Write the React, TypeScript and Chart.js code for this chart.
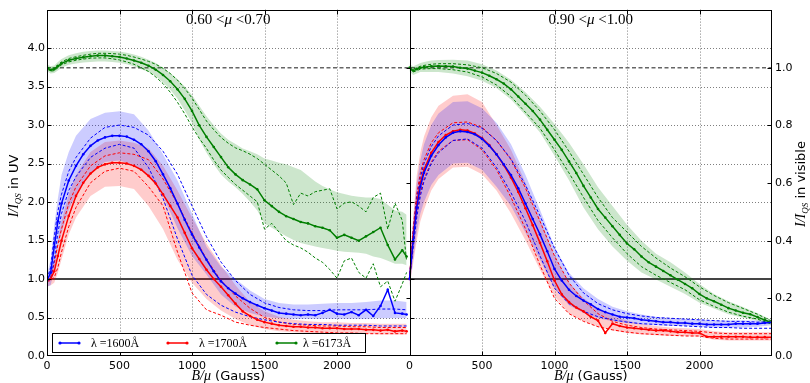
import React, { useEffect, useRef } from "react";
import { Chart, registerables } from "chart.js";

Chart.register(...registerables);

// ---------- x grids (B/mu in Gauss) ----------
const FINE_B = [0, 25, 50, 75, 100, 150, 200, 250, 300, 350, 400, 450, 500, 550, 600, 650, 700, 750, 800, 850, 900, 950, 1000, 1050, 1100, 1150, 1200, 1250, 1300, 1350, 1400, 1450, 1500, 1550, 1600, 1650, 1700, 1750, 1800, 1850, 1900, 1950, 2000, 2050, 2100, 2150, 2200, 2250, 2300, 2350, 2400, 2450];
const COARSE_B = [0, 25, 50, 75, 100, 150, 200, 300, 400, 500, 600, 700, 800, 900, 1000, 1100, 1200, 1300, 1400, 1500, 1600, 1700, 1800, 1900, 2000, 2100, 2200, 2300, 2400];
const LEFT_END = 2480;
const RIGHT_END = 2500;
const PANEL_SPAN = 2500;

// ---------- tick labels ----------
const X_TICKS = [0, 500, 1000, 1500, 2000];
const UV_TICKS = [0, 0.5, 1.0, 1.5, 2.0, 2.5, 3.0, 3.5, 4.0];
const VIS_TICKS = [0, 0.2, 0.4, 0.6, 0.8, 1.0];
const UV_MAX = 4.5;
const UV_PER_VIS = 3.745;
const LEGEND_LABELS = ["\u03bb =1600\u00c5", "\u03bb =1700\u00c5", "\u03bb =6173\u00c5"];
const PANEL_TITLES = [["0.60", "0.70"], ["0.90", "1.00"]];

// ---------- LEFT PANEL  0.60 < mu < 0.70 ----------
// UV (I/I_QS), fine grid
const L_BLUE_MEAN = [0.98, 1.08, 1.42, 1.75, 1.98, 2.28, 2.47, 2.62, 2.73, 2.80, 2.84, 2.86, 2.86, 2.85, 2.81, 2.75, 2.66, 2.53, 2.36, 2.18, 1.98, 1.77, 1.58, 1.41, 1.25, 1.10, 0.97, 0.88, 0.81, 0.75, 0.70, 0.66, 0.62, 0.59, 0.56, 0.55, 0.54, 0.53, 0.54, 0.53, 0.56, 0.60, 0.55, 0.54, 0.57, 0.53, 0.60, 0.52, 0.65, 0.86, 0.56, 0.55, 0.54];
const L_RED_MEAN = [0.98, 1.00, 1.10, 1.30, 1.50, 1.82, 2.08, 2.25, 2.37, 2.45, 2.49, 2.51, 2.51, 2.50, 2.47, 2.42, 2.34, 2.24, 2.10, 1.95, 1.80, 1.60, 1.40, 1.26, 1.12, 1.00, 0.90, 0.79, 0.68, 0.58, 0.52, 0.47, 0.44, 0.42, 0.40, 0.39, 0.38, 0.38, 0.37, 0.37, 0.36, 0.36, 0.36, 0.35, 0.35, 0.35, 0.34, 0.34, 0.33, 0.34, 0.32, 0.33, 0.32];
// coarse grid
const L_BLUE_HI = [1.05, 1.25, 1.7, 2.05, 2.35, 2.65, 2.86, 3.08, 3.16, 3.18, 3.14, 2.93, 2.62, 2.28, 1.85, 1.42, 1.16, 1.0, 0.85, 0.74, 0.69, 0.67, 0.67, 0.68, 0.69, 0.69, 0.70, 0.72, 0.72, 0.70];
const L_BLUE_LO = [0.9, 0.92, 1.12, 1.42, 1.6, 1.9, 2.1, 2.38, 2.52, 2.54, 2.48, 2.35, 2.08, 1.66, 1.3, 1.06, 0.8, 0.64, 0.56, 0.51, 0.49, 0.48, 0.48, 0.48, 0.48, 0.48, 0.48, 0.49, 0.49, 0.49];
const L_RED_HI = [1.0, 1.05, 1.25, 1.5, 1.75, 2.1, 2.35, 2.65, 2.78, 2.8, 2.77, 2.7, 2.47, 2.15, 1.8, 1.46, 1.18, 0.92, 0.7, 0.58, 0.51, 0.47, 0.45, 0.44, 0.44, 0.43, 0.43, 0.42, 0.42, 0.42];
const L_RED_LO = [0.9, 0.92, 0.95, 1.08, 1.25, 1.58, 1.8, 2.08, 2.2, 2.21, 2.17, 1.95, 1.65, 1.25, 0.95, 0.74, 0.59, 0.48, 0.4, 0.35, 0.32, 0.31, 0.3, 0.3, 0.29, 0.29, 0.29, 0.28, 0.28, 0.28];
const L_BLUE_DHI = [1.0, 1.15, 1.55, 1.88, 2.1, 2.4, 2.58, 2.83, 2.97, 3.0, 2.97, 2.87, 2.66, 2.36, 1.95, 1.55, 1.22, 0.98, 0.8, 0.69, 0.63, 0.6, 0.59, 0.59, 0.6, 0.6, 0.6, 0.61, 0.61, 0.6];
const L_BLUE_DLO = [0.97, 1.0, 1.25, 1.6, 1.85, 2.15, 2.33, 2.58, 2.7, 2.75, 2.7, 2.45, 2.05, 1.52, 1.05, 0.8, 0.66, 0.57, 0.51, 0.47, 0.44, 0.42, 0.41, 0.41, 0.4, 0.4, 0.4, 0.39, 0.39, 0.39];
const L_RED_DHI = [0.98, 1.02, 1.2, 1.45, 1.65, 1.98, 2.2, 2.47, 2.6, 2.64, 2.62, 2.55, 2.3, 1.98, 1.6, 1.26, 0.98, 0.78, 0.62, 0.5, 0.44, 0.41, 0.4, 0.39, 0.39, 0.38, 0.38, 0.37, 0.37, 0.37];
const L_RED_DLO = [0.97, 0.98, 1.02, 1.15, 1.35, 1.68, 1.93, 2.25, 2.4, 2.44, 2.4, 2.2, 1.95, 1.35, 0.82, 0.6, 0.53, 0.44, 0.4, 0.37, 0.35, 0.33, 0.32, 0.31, 0.3, 0.3, 0.29, 0.29, 0.29, 0.29];
// visible (I/I_QS), fine grid
const L_GREEN_MEAN = [1.0, 0.992, 0.995, 1.005, 1.015, 1.026, 1.032, 1.036, 1.04, 1.042, 1.042, 1.04, 1.037, 1.032, 1.025, 1.017, 1.007, 0.993, 0.975, 0.953, 0.925, 0.892, 0.85, 0.80, 0.76, 0.725, 0.69, 0.655, 0.63, 0.61, 0.595, 0.578, 0.54, 0.52, 0.5, 0.485, 0.475, 0.465, 0.46, 0.45, 0.445, 0.436, 0.41, 0.42, 0.41, 0.40, 0.415, 0.43, 0.445, 0.385, 0.335, 0.367, 0.345];
const L_GREEN_HI = [1.012, 1.005, 1.008, 1.02, 1.03, 1.043, 1.05, 1.055, 1.058, 1.06, 1.06, 1.058, 1.056, 1.052, 1.046, 1.038, 1.028, 1.016, 1.0, 0.982, 0.96, 0.935, 0.905, 0.868, 0.832, 0.8, 0.772, 0.75, 0.735, 0.72, 0.71, 0.70, 0.685, 0.678, 0.67, 0.665, 0.655, 0.645, 0.625, 0.605, 0.59, 0.578, 0.568, 0.562, 0.556, 0.552, 0.55, 0.55, 0.545, 0.525, 0.505, 0.5, 0.49];
const L_GREEN_LO = [0.988, 0.98, 0.982, 0.99, 1.0, 1.01, 1.015, 1.018, 1.02, 1.022, 1.022, 1.02, 1.017, 1.012, 1.004, 0.995, 0.985, 0.97, 0.95, 0.924, 0.892, 0.852, 0.808, 0.75, 0.705, 0.665, 0.63, 0.605, 0.585, 0.562, 0.535, 0.505, 0.46, 0.445, 0.43, 0.415, 0.402, 0.392, 0.386, 0.38, 0.375, 0.37, 0.365, 0.362, 0.36, 0.358, 0.355, 0.345, 0.34, 0.33, 0.32, 0.32, 0.315];
const L_GREEN_DHI = [1.004, 0.997, 1.0, 1.01, 1.02, 1.032, 1.038, 1.043, 1.047, 1.05, 1.05, 1.049, 1.047, 1.043, 1.037, 1.03, 1.022, 1.012, 0.998, 0.98, 0.957, 0.928, 0.895, 0.855, 0.815, 0.785, 0.758, 0.738, 0.722, 0.712, 0.70, 0.685, 0.665, 0.645, 0.625, 0.60, 0.525, 0.565, 0.555, 0.57, 0.575, 0.58, 0.51, 0.53, 0.535, 0.52, 0.50, 0.55, 0.565, 0.44, 0.53, 0.47, 0.33];
const L_GREEN_DLO = [0.996, 0.988, 0.99, 1.0, 1.01, 1.02, 1.026, 1.03, 1.033, 1.034, 1.034, 1.031, 1.027, 1.02, 1.012, 1.0, 0.987, 0.968, 0.945, 0.915, 0.88, 0.84, 0.795, 0.755, 0.72, 0.68, 0.645, 0.62, 0.595, 0.575, 0.555, 0.535, 0.44, 0.46, 0.43, 0.40, 0.385, 0.375, 0.36, 0.34, 0.325, 0.30, 0.27, 0.33, 0.34, 0.29, 0.27, 0.32, 0.24, 0.26, 0.19, 0.25, 0.29];

// ---------- RIGHT PANEL  0.90 < mu < 1.00 ----------
const R_BLUE_MEAN = [1.0, 1.5, 1.93, 2.2, 2.38, 2.6, 2.74, 2.84, 2.9, 2.92, 2.91, 2.88, 2.82, 2.73, 2.62, 2.49, 2.35, 2.18, 1.98, 1.78, 1.58, 1.36, 1.13, 0.98, 0.86, 0.78, 0.72, 0.67, 0.61, 0.57, 0.54, 0.51, 0.5, 0.49, 0.47, 0.46, 0.45, 0.44, 0.44, 0.43, 0.43, 0.42, 0.42, 0.41, 0.41, 0.41, 0.41, 0.42, 0.42, 0.42, 0.42, 0.43, 0.44];
const R_RED_MEAN = [1.0, 1.55, 1.98, 2.25, 2.42, 2.64, 2.78, 2.87, 2.92, 2.94, 2.93, 2.89, 2.83, 2.74, 2.62, 2.48, 2.32, 2.13, 1.92, 1.7, 1.47, 1.23, 0.98, 0.8, 0.7, 0.63, 0.58, 0.51, 0.46, 0.3, 0.42, 0.39, 0.37, 0.36, 0.35, 0.34, 0.33, 0.33, 0.32, 0.31, 0.31, 0.3, 0.3, 0.25, 0.25, 0.25, 0.25, 0.25, 0.25, 0.245, 0.245, 0.245, 0.245];
const R_GREEN_MEAN = [1.0, 0.99, 0.995, 1.0, 1.002, 1.005, 1.006, 1.005, 1.004, 1.0, 0.997, 0.99, 0.983, 0.972, 0.96, 0.945, 0.925, 0.9, 0.875, 0.85, 0.82, 0.785, 0.75, 0.715, 0.675, 0.635, 0.59, 0.55, 0.51, 0.48, 0.45, 0.42, 0.39, 0.37, 0.345, 0.325, 0.31, 0.295, 0.28, 0.265, 0.25, 0.235, 0.215, 0.2, 0.19, 0.178, 0.166, 0.158, 0.15, 0.145, 0.135, 0.125, 0.115];
const R_BLUE_HI = [1.1, 1.75, 2.25, 2.55, 2.75, 3.0, 3.15, 3.3, 3.31, 3.22, 3.03, 2.75, 2.35, 1.9, 1.42, 1.08, 0.88, 0.74, 0.64, 0.58, 0.54, 0.51, 0.49, 0.48, 0.47, 0.46, 0.46, 0.46, 0.46, 0.46];
const R_BLUE_LO = [0.9, 1.25, 1.6, 1.85, 2.0, 2.22, 2.35, 2.5, 2.51, 2.42, 2.2, 1.95, 1.6, 1.25, 0.88, 0.66, 0.56, 0.49, 0.45, 0.43, 0.41, 0.4, 0.39, 0.39, 0.38, 0.37, 0.37, 0.37, 0.38, 0.4];
const R_RED_HI = [1.05, 1.8, 2.35, 2.65, 2.85, 3.1, 3.25, 3.38, 3.4, 3.3, 3.0, 2.68, 2.25, 1.78, 1.3, 0.95, 0.75, 0.62, 0.52, 0.46, 0.42, 0.39, 0.37, 0.36, 0.35, 0.32, 0.31, 0.31, 0.31, 0.31];
const R_RED_LO = [0.9, 1.2, 1.5, 1.75, 1.9, 2.15, 2.3, 2.45, 2.46, 2.36, 2.15, 1.85, 1.5, 1.12, 0.78, 0.55, 0.45, 0.38, 0.33, 0.3, 0.28, 0.27, 0.26, 0.26, 0.25, 0.21, 0.2, 0.2, 0.2, 0.2];
const R_BLUE_DHI = [1.0, 1.6, 2.05, 2.32, 2.5, 2.72, 2.86, 3.0, 3.02, 2.96, 2.8, 2.56, 2.22, 1.82, 1.4, 1.05, 0.82, 0.68, 0.6, 0.55, 0.52, 0.5, 0.49, 0.48, 0.47, 0.46, 0.45, 0.45, 0.44, 0.44];
const R_BLUE_DLO = [1.0, 1.4, 1.8, 2.08, 2.27, 2.5, 2.64, 2.8, 2.82, 2.7, 2.45, 2.12, 1.75, 1.3, 0.88, 0.68, 0.58, 0.51, 0.47, 0.44, 0.42, 0.41, 0.4, 0.39, 0.38, 0.37, 0.37, 0.36, 0.36, 0.36];
const R_RED_DHI = [1.0, 1.65, 2.1, 2.38, 2.55, 2.77, 2.9, 3.03, 3.04, 2.97, 2.8, 2.55, 2.18, 1.75, 1.3, 0.95, 0.72, 0.55, 0.45, 0.4, 0.37, 0.35, 0.34, 0.33, 0.32, 0.3, 0.29, 0.29, 0.29, 0.29];
const R_RED_DLO = [1.0, 1.45, 1.85, 2.12, 2.3, 2.52, 2.66, 2.8, 2.81, 2.68, 2.42, 2.06, 1.65, 1.18, 0.75, 0.55, 0.45, 0.38, 0.34, 0.31, 0.29, 0.28, 0.27, 0.26, 0.26, 0.23, 0.22, 0.22, 0.22, 0.22];
const R_GREEN_HI = [1.012, 1.005, 1.01, 1.016, 1.02, 1.025, 1.027, 1.028, 1.025, 1.012, 0.99, 0.958, 0.915, 0.865, 0.805, 0.74, 0.665, 0.585, 0.52, 0.455, 0.4, 0.355, 0.325, 0.29, 0.25, 0.215, 0.19, 0.17, 0.148, 0.125];
const R_GREEN_LO = [0.988, 0.975, 0.98, 0.985, 0.985, 0.985, 0.985, 0.98, 0.97, 0.955, 0.93, 0.89, 0.835, 0.775, 0.695, 0.61, 0.515, 0.44, 0.38, 0.33, 0.29, 0.265, 0.24, 0.215, 0.185, 0.165, 0.145, 0.133, 0.122, 0.108];
const R_GREEN_DHI = [1.003, 0.995, 1.0, 1.005, 1.008, 1.012, 1.014, 1.014, 1.01, 1.0, 0.98, 0.95, 0.905, 0.85, 0.785, 0.71, 0.63, 0.55, 0.48, 0.43, 0.38, 0.34, 0.305, 0.275, 0.24, 0.21, 0.185, 0.165, 0.145, 0.12];
const R_GREEN_DLO = [0.997, 0.985, 0.99, 0.995, 0.996, 0.997, 0.997, 0.993, 0.985, 0.968, 0.94, 0.9, 0.845, 0.79, 0.715, 0.635, 0.55, 0.47, 0.41, 0.355, 0.31, 0.28, 0.255, 0.23, 0.195, 0.172, 0.152, 0.138, 0.128, 0.11];

// ---------- styles ----------
const BLUE = "#0000ff";
const RED = "#ff0000";
const GREEN = "#007f00";
const BLUE_FILL = "rgba(0,0,255,0.2)";
const RED_FILL = "rgba(255,0,0,0.2)";
const GREEN_FILL = "rgba(0,128,0,0.2)";
const SERIF = '"Liberation Serif", "DejaVu Serif", serif';
const SANS = '"DejaVu Sans", "Liberation Sans", sans-serif';

type Run = { text: string; font: string; dy?: number };

function drawRuns(ctx: CanvasRenderingContext2D, runs: Run[], cx: number, cy: number, rot = 0) {
  ctx.save();
  ctx.translate(cx, cy);
  if (rot) ctx.rotate(rot);
  ctx.textBaseline = "alphabetic";
  ctx.textAlign = "left";
  ctx.fillStyle = "#000";
  const widths = runs.map((r) => {
    ctx.font = r.font;
    return ctx.measureText(r.text).width;
  });
  const total = widths.reduce((a, b) => a + b, 0);
  let x = -total / 2;
  runs.forEach((r, i) => {
    ctx.font = r.font;
    ctx.fillText(r.text, x, r.dy || 0);
    x += widths[i];
  });
  ctx.restore();
}

function buildDatasets() {
  const datasets: any[] = [];
  const add = (
    off: number, color: string, fillColor: string, axis: string,
    meanB: number[], mean: number[], bandB: number[],
    lo: number[], hi: number[], dlo: number[], dhi: number[]
  ) => {
    const P = (bs: number[], vs: number[]) => bs.map((b, i) => ({ x: b + off, y: vs[i] }));
    const common = { yAxisID: axis, tension: 0, pointHoverRadius: 0 };
    datasets.push({ ...common, data: P(bandB, lo), borderColor: "transparent", borderWidth: 1, pointRadius: 0, fill: false, order: 3 });
    datasets.push({ ...common, data: P(bandB, hi), borderColor: "transparent", borderWidth: 1, pointRadius: 0, fill: "-1", backgroundColor: fillColor, order: 3 });
    datasets.push({ ...common, data: P(bandB, dlo), borderColor: color, borderWidth: 1, borderDash: [3, 2], pointRadius: 0, fill: false, order: 2 });
    datasets.push({ ...common, data: P(bandB, dhi), borderColor: color, borderWidth: 1, borderDash: [3, 2], pointRadius: 0, fill: false, order: 2 });
    datasets.push({ ...common, data: P(meanB, mean), borderColor: color, borderWidth: 1.5, pointRadius: 1.3, pointBackgroundColor: color, pointBorderWidth: 0, fill: false, order: 1 });
  };
  const LF = [...FINE_B, LEFT_END];
  const LC = [...COARSE_B, LEFT_END];
  const RF = [...FINE_B, RIGHT_END];
  const RC = [...COARSE_B, RIGHT_END];
  add(0, BLUE, BLUE_FILL, "y", LF, L_BLUE_MEAN, LC, L_BLUE_LO, L_BLUE_HI, L_BLUE_DLO, L_BLUE_DHI);
  add(0, RED, RED_FILL, "y", LF, L_RED_MEAN, LC, L_RED_LO, L_RED_HI, L_RED_DLO, L_RED_DHI);
  add(0, GREEN, GREEN_FILL, "y2", LF, L_GREEN_MEAN, LF, L_GREEN_LO, L_GREEN_HI, L_GREEN_DLO, L_GREEN_DHI);
  add(PANEL_SPAN, BLUE, BLUE_FILL, "y", RF, R_BLUE_MEAN, RC, R_BLUE_LO, R_BLUE_HI, R_BLUE_DLO, R_BLUE_DHI);
  add(PANEL_SPAN, RED, RED_FILL, "y", RF, R_RED_MEAN, RC, R_RED_LO, R_RED_HI, R_RED_DLO, R_RED_DHI);
  add(PANEL_SPAN, GREEN, GREEN_FILL, "y2", RF, R_GREEN_MEAN, RC, R_GREEN_LO, R_GREEN_HI, R_GREEN_DLO, R_GREEN_DHI);
  return datasets;
}

const decor = {
  id: "decor",
  beforeDatasetsDraw(chart: any) {
    const { ctx, chartArea: ca, scales } = chart;
    const { x, y, y2 } = scales;
    ctx.save();
    // dotted grid
    ctx.strokeStyle = "rgba(0,0,0,0.5)";
    ctx.lineWidth = 1;
    ctx.setLineDash([1, 2]);
    ctx.beginPath();
    [0, PANEL_SPAN].forEach((off) => {
      X_TICKS.slice(1).forEach((v) => {
        const px = Math.round(x.getPixelForValue(v + off)) + 0.5;
        ctx.moveTo(px, ca.top);
        ctx.lineTo(px, ca.bottom);
      });
    });
    UV_TICKS.slice(1).forEach((u) => {
      const py = Math.round(y.getPixelForValue(u)) + 0.5;
      ctx.moveTo(ca.left, py);
      ctx.lineTo(ca.right, py);
    });
    ctx.stroke();
    // dashed reference at visible = 1
    ctx.setLineDash([4, 2.5]);
    ctx.strokeStyle = "#666";
    ctx.lineWidth = 1.6;
    ctx.beginPath();
    const pv = y2.getPixelForValue(1.0);
    ctx.moveTo(ca.left, pv);
    ctx.lineTo(ca.right, pv);
    ctx.stroke();
    // solid reference at UV = 1
    ctx.setLineDash([]);
    ctx.strokeStyle = "#444";
    ctx.lineWidth = 1.8;
    ctx.beginPath();
    const pu = y.getPixelForValue(1.0);
    ctx.moveTo(ca.left, pu);
    ctx.lineTo(ca.right, pu);
    ctx.stroke();
    ctx.restore();
  },
  afterDraw(chart: any) {
    const { ctx, chartArea: ca, scales } = chart;
    const { x, y, y2 } = scales;
    ctx.save();
    const L = Math.round(ca.left) + 0.5;
    const R = Math.round(ca.right) - 0.5;
    const T = Math.round(ca.top) + 0.5;
    const B = Math.round(ca.bottom) - 0.5;
    const S = Math.round(x.getPixelForValue(PANEL_SPAN)) + 0.5;
    ctx.strokeStyle = "#000";
    ctx.lineWidth = 1;
    ctx.setLineDash([]);
    ctx.strokeRect(L, T, R - L, B - T);
    ctx.beginPath();
    ctx.moveTo(S, T);
    ctx.lineTo(S, B);
    // inward ticks
    const tk = 4;
    [0, PANEL_SPAN].forEach((off) => {
      X_TICKS.slice(1).forEach((v) => {
        const px = Math.round(x.getPixelForValue(v + off)) + 0.5;
        ctx.moveTo(px, B);
        ctx.lineTo(px, B - tk);
        ctx.moveTo(px, T);
        ctx.lineTo(px, T + tk);
      });
    });
    UV_TICKS.slice(1).forEach((u) => {
      const py = Math.round(y.getPixelForValue(u)) + 0.5;
      ctx.moveTo(L, py);
      ctx.lineTo(L + tk, py);
      ctx.moveTo(S, py);
      ctx.lineTo(S + tk, py);
    });
    VIS_TICKS.slice(1).forEach((v) => {
      const py = Math.round(y2.getPixelForValue(v)) + 0.5;
      ctx.moveTo(S, py);
      ctx.lineTo(S - tk, py);
      ctx.moveTo(R, py);
      ctx.lineTo(R - tk, py);
    });
    ctx.stroke();

    // panel titles
    const tFont = `15px ${SERIF}`;
    const tItal = `italic 15px ${SERIF}`;
    const titleY = 24;
    const leftC = (x.getPixelForValue(0) + x.getPixelForValue(PANEL_SPAN)) / 2;
    const rightC = (x.getPixelForValue(PANEL_SPAN) + x.getPixelForValue(2 * PANEL_SPAN)) / 2;
    [leftC, rightC].forEach((c, i) => {
      const [a, b] = PANEL_TITLES[i];
      drawRuns(ctx, [
        { text: a + " <", font: tFont },
        { text: "\u03bc", font: tItal },
        { text: " <" + b, font: tFont },
      ], c, titleY);
    });

    // x axis titles
    [leftC, rightC].forEach((c) => {
      drawRuns(ctx, [
        { text: "B/\u03bc", font: `italic 14px ${SERIF}` },
        { text: " (Gauss)", font: `13px ${SANS}` },
      ], c, 380);
    });

    // y axis titles
    drawRuns(ctx, [
      { text: "I/I", font: `italic 14px ${SERIF}` },
      { text: "QS", font: `italic 9px ${SERIF}`, dy: 3 },
      { text: " in UV", font: `13px ${SANS}` },
    ], 18, 186, -Math.PI / 2);
    drawRuns(ctx, [
      { text: "I/I", font: `italic 14px ${SERIF}` },
      { text: "QS", font: `italic 9px ${SERIF}`, dy: 3 },
      { text: " in visible", font: `13px ${SANS}` },
    ], 805, 184, -Math.PI / 2);

    // legend
    const lx = 52.5, ly = 333.5, lw = 313, lh = 19;
    ctx.fillStyle = "#fff";
    ctx.fillRect(lx, ly, lw, lh);
    ctx.strokeStyle = "#000";
    ctx.lineWidth = 1;
    ctx.strokeRect(lx, ly, lw, lh);
    const cy = ly + lh / 2;
    const entries = [
      { c: BLUE, x0: 60, tx: 91 },
      { c: RED, x0: 168, tx: 199 },
      { c: GREEN, x0: 277, tx: 303 },
    ];
    entries.forEach((e, i) => {
      ctx.strokeStyle = e.c;
      ctx.lineWidth = 1.5;
      ctx.beginPath();
      ctx.moveTo(e.x0, cy);
      ctx.lineTo(e.x0 + 19, cy);
      ctx.stroke();
      ctx.fillStyle = e.c;
      [e.x0, e.x0 + 19].forEach((px) => {
        ctx.beginPath();
        ctx.arc(px, cy, 1.6, 0, Math.PI * 2);
        ctx.fill();
      });
      ctx.fillStyle = "#000";
      ctx.font = `12px ${SERIF}`;
      ctx.textBaseline = "middle";
      ctx.textAlign = "left";
      ctx.fillText(LEGEND_LABELS[i], e.tx, cy + 0.5);
    });
    ctx.restore();
  },
};

export default function App() {
  const ref = useRef<HTMLCanvasElement | null>(null);
  useEffect(() => {
    document.body.style.margin = "0";
    const canvas = ref.current;
    if (!canvas) return;
    const tickFont = { family: SANS, size: 11 };
    const chart = new Chart(canvas, {
      type: "line",
      data: { datasets: buildDatasets() },
      options: {
        responsive: false,
        animation: false,
        devicePixelRatio: 1,
        events: [],
        layout: { padding: { top: 8, left: 0, right: 0, bottom: 0 } },
        plugins: { legend: { display: false }, tooltip: { enabled: false }, title: { display: false } },
        elements: { line: { tension: 0 } },
        scales: {
          x: {
            type: "linear",
            min: 0,
            max: 2 * PANEL_SPAN,
            afterBuildTicks: (s: any) => {
              s.ticks = [...X_TICKS, ...X_TICKS.map((v) => v + PANEL_SPAN)].map((v) => ({ value: v }));
            },
            afterFit: (s: any) => { s.height = 27; },
            ticks: {
              autoSkip: false,
              maxRotation: 0,
              padding: 4,
              color: "#000",
              font: tickFont,
              callback: (v: any) => String(Number(v) >= PANEL_SPAN ? Number(v) - PANEL_SPAN : Number(v)),
            },
            grid: { display: false, drawTicks: false },
            border: { display: false },
          },
          y: {
            type: "linear",
            position: "left",
            min: 0,
            max: UV_MAX,
            afterBuildTicks: (s: any) => { s.ticks = UV_TICKS.map((v) => ({ value: v })); },
            afterFit: (s: any) => { s.width = 47; },
            ticks: { padding: 2, color: "#000", font: tickFont, callback: (v: any) => Number(v).toFixed(1) },
            grid: { display: false, drawTicks: false },
            border: { display: false },
          },
          y2: {
            type: "linear",
            position: "right",
            min: 0,
            max: UV_MAX / UV_PER_VIS,
            afterBuildTicks: (s: any) => { s.ticks = VIS_TICKS.map((v) => ({ value: v })); },
            afterFit: (s: any) => { s.width = 38; },
            ticks: { padding: 3, color: "#000", font: tickFont, callback: (v: any) => Number(v).toFixed(1) },
            grid: { display: false, drawTicks: false },
            border: { display: false },
          },
        },
      } as any,
      plugins: [decor as any],
    });
    return () => chart.destroy();
  }, []);
  return (
    <div style={{ position: "absolute", left: 0, top: 0, width: 810, height: 383, background: "#fff" }}>
      <canvas ref={ref} width={810} height={383} style={{ display: "block" }} />
    </div>
  );
}
